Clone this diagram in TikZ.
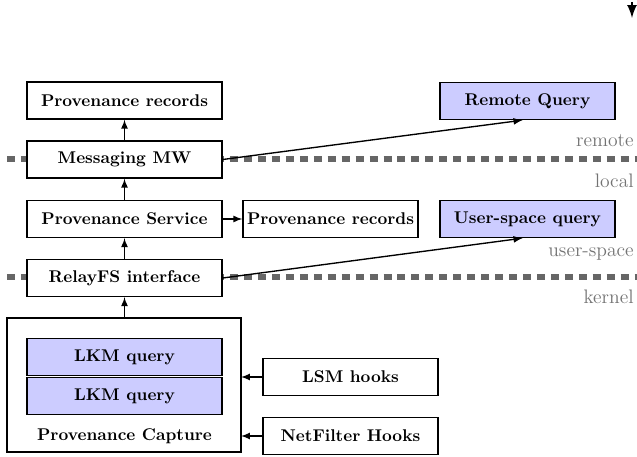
\documentclass[tikz,border=0pt]{standalone}
\usepackage{amsmath}
\usepackage{tikz}

\tikzset{
    box/.style={draw, thick, fill=white, minimum width=114.7pt, minimum height=21.8pt, inner sep=0pt, font=\bfseries},
    smallbox/.style={box, minimum width=102.9pt},
    query/.style={smallbox, fill=blue!20},
    layer/.style={draw=black!60, line width=3pt, dash pattern=on 4.7pt off 3.5pt},
    tag/.style={text=black!55, anchor=east, inner sep=0pt, font=\fontsize{11.5}{13}\selectfont},
    link/.style={thick, -latex}
}

\begin{document}
\begin{tikzpicture}[x=0.588pt, y=-0.588pt]
        \useasboundingbox (0,0) rectangle (637,457);

        % Draw the layer boundaries
        \draw[layer] (7,159) -- (637,159);
        \draw[layer] (7,277) -- (637,277);
        \node[tag] (remote) at (634,141) {remote};
        \node[tag] (local) at (634,181) {local};
        \node[tag] (user) at (634,254) {user-space};
        \node[tag] (kernel) at (634,297) {kernel};

        % Draw the capture module with its queries
        \draw[thick] (7,318) rectangle (241,452);
        \coordinate (captop) at (124.5,318);
        \coordinate (lsmin) at (241,377);
        \coordinate (netin) at (241,436);
        \node[box, fill=blue!20] (lkma) at (124.5,357) {LKM query};
        \node[box, fill=blue!20] (lkmb) at (124.5,396) {LKM query};
        \node (capture) at (124.5,436) {\textbf{Provenance Capture}};

        % Define the other nodes
        \node[box] (relay) at (124.5,278) {RelayFS interface};
        \node[box] (service) at (124.5,219) {Provenance Service};
        \node[box] (mw) at (124.5,159.5) {Messaging MW};
        \node[box] (records) at (124.5,100.5) {Provenance records};
        \node[smallbox] (localrec) at (330.5,219) {Provenance records};
        \node[query] (remoteq) at (527.5,101) {Remote Query};
        \node[query] (userq) at (527.5,219) {User-space query};
        \node[smallbox] (lsm) at (350.5,377) {LSM hooks};
        \node[smallbox] (netfilter) at (350.5,436) {NetFilter Hooks};

        % Draw the connectors
        \draw[link] (captop) -- (relay);
        \draw[link] (relay) -- (service);
        \draw[link] (service) -- (mw);
        \draw[link] (mw) -- (records);
        \draw[link] (service) -- (localrec);
        \draw[link] (mw.east) -- ([xshift=-3pt]remoteq.south);
        \draw[link] (relay.east) -- ([xshift=-3pt]userq.south);
        \draw[link] (lsm) -- (lsmin);
        \draw[link] (netfilter) -- (netin);

        % Draw the arrow at the corner
        \coordinate (cornera) at (632,2);
        \coordinate (cornerb) at (632,18);
        \draw[link, line width=1.6pt] (cornera) -- (cornerb);
    \end{tikzpicture}
\end{document}
